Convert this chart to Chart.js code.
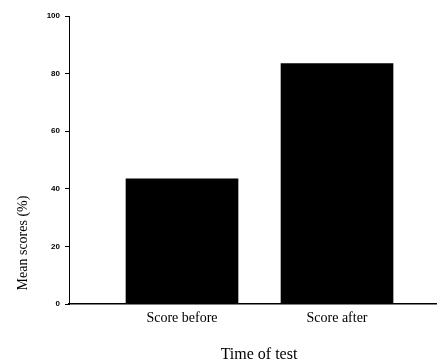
<!DOCTYPE html>
<html>
<head>
<meta charset="utf-8">
<script src="https://cdn.jsdelivr.net/npm/chart.js@4.4.1/dist/chart.umd.min.js"></script>
<style>
  html, body { margin: 0; padding: 0; background: #fff; }
  #wrap { width: 437px; height: 363px; position: relative; }
</style>
</head>
<body>
<div id="wrap"><canvas id="c"></canvas></div>
<script>
const categories = ['Score before', 'Score after'];
const positions = [1, 2];
const meanScores = [43.5, 83.5];
const yTicks = [0, 20, 40, 60, 80, 100];
const xTitle = 'Time of test';
const yTitle = 'Mean scores (%)';

const titlePlugin = {
  id: 'titles',
  afterDraw(chart) {
    const ctx = chart.ctx;
    ctx.save();
    ctx.fillStyle = '#000';
    ctx.textAlign = 'center';
    ctx.textBaseline = 'middle';
    ctx.font = '16px "Liberation Serif"';
    ctx.fillText(xTitle, 259, 355);
    ctx.translate(23, 243);
    ctx.rotate(-Math.PI / 2);
    ctx.font = '14px "Liberation Serif"';
    ctx.fillText(yTitle, 0, 0);
    ctx.restore();
  }
};

new Chart(document.getElementById('c'), {
  type: 'bar',
  data: {
    datasets: [{
      data: positions.map((p, i) => ({ x: p, y: meanScores[i] })),
      backgroundColor: '#000',
      borderWidth: 0,
      barThickness: 112
    }]
  },
  options: {
    responsive: true,
    maintainAspectRatio: false,
    animation: false,
    layout: { padding: { top: 16, right: 0, left: 0, bottom: 0 } },
    plugins: { legend: { display: false }, tooltip: { enabled: false } },
    scales: {
      x: {
        type: 'linear',
        offset: false,
        min: 0.271,
        max: 2.645,
        afterFit(scale) { scale.height = 59; },
        afterBuildTicks(scale) { scale.ticks = positions.map(v => ({ value: v })); },
        grid: { display: true, offset: false, drawOnChartArea: false, drawTicks: false },
        border: { display: true, color: '#000', width: 1.5 },
        ticks: {
          color: '#000',
          padding: 6,
          maxRotation: 0,
          autoSkip: false,
          font: { family: '"Liberation Serif"', size: 14 },
          callback(v) { const i = positions.indexOf(v); return i >= 0 ? categories[i] : ''; }
        }
      },
      y: {
        min: 0,
        max: 100,
        afterFit(scale) { scale.width = 69; },
        afterBuildTicks(scale) { scale.ticks = yTicks.map(v => ({ value: v })); },
        grid: { drawOnChartArea: false, drawTicks: true, tickLength: 4, color: '#000' },
        border: { display: true, color: '#000', width: 1 },
        ticks: {
          color: '#000',
          padding: 5,
          font: { family: '"Liberation Sans"', size: 8, weight: 'bold' }
        }
      }
    }
  },
  plugins: [titlePlugin]
});
</script>
</body>
</html>
